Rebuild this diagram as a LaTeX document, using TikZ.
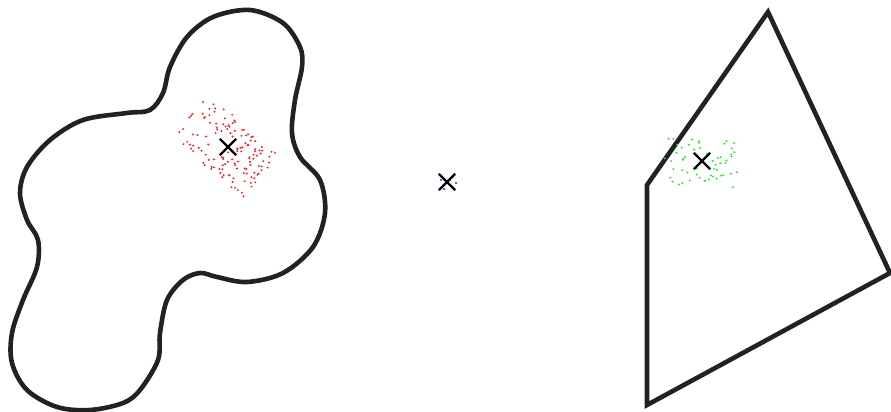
\documentclass[tikz,border=0pt]{standalone}
\usetikzlibrary{shapes.misc}
\begin{document}
\begin{tikzpicture}[x=1pt,y=-1pt,
  outline/.style={line width=4.6pt,draw={rgb,255:red,34;green,34;blue,34},line join=round},
  xmark/.style={cross out,draw=black,line width=2.4pt,minimum size=14pt,inner sep=0pt},
  rdot/.style={fill={rgb,255:red,255;green,30;blue,30}},
  gdot/.style={fill={rgb,255:red,40;green,235;blue,40}},
  bdot/.style={fill={rgb,255:red,40;green,40;blue,230}}]
\useasboundingbox (0,0) rectangle (891,412);
% blob
\draw[outline] plot[smooth cycle,tension=0.55] coordinates {
 (250,10) (283,23) (300,47) (302,67) (295,100) (292,133) (300,157) (320,180)
 (325,213) (313,247) (283,273) (247,282) (217,277) (200,273) (183,280)
 (167,300) (160,333) (158,360) (140,390) (123,403) (90,410) (57,407)
 (27,390) (12,363) (12,333) (23,300) (37,267) (38,240) (27,220) (20,193)
 (27,167) (50,140) (83,120) (127,113) (150,110) (163,93) (170,67) (187,37) (213,17)};
% quadrilateral
\draw[outline,line join=miter] (768,12) -- (890,273) -- (647,405) -- (647,185) -- cycle;
% red cloud
\pgfmathsetseed{11}
\foreach \i in {1,...,135}{
  \pgfmathsetmacro{\ra}{rand}\pgfmathsetmacro{\rb}{rand}
  \fill[rdot] ({226+36*\ra+18*\rb},{146+30*\ra-22*\rb}) circle (1.1);
}
% green cloud
\pgfmathsetseed{5}
\foreach \i in {1,...,55}{
  \pgfmathsetmacro{\ra}{rand}\pgfmathsetmacro{\rb}{rand}
  \fill[gdot] ({702+38*\ra},{163+24*\rb+3*\ra}) circle (1.1);
}
% blue dots
\fill[bdot] (441,180) circle (1.1) (456,183) circle (1.1) (444,189) circle (1.1) (450,180) circle (1.1);
% cross marks
\node[xmark] (redc) at (228,147) {};
\node[xmark] (midc) at (447,182) {};
\node[xmark] (grnc) at (702,161) {};
\end{tikzpicture}
\end{document}
